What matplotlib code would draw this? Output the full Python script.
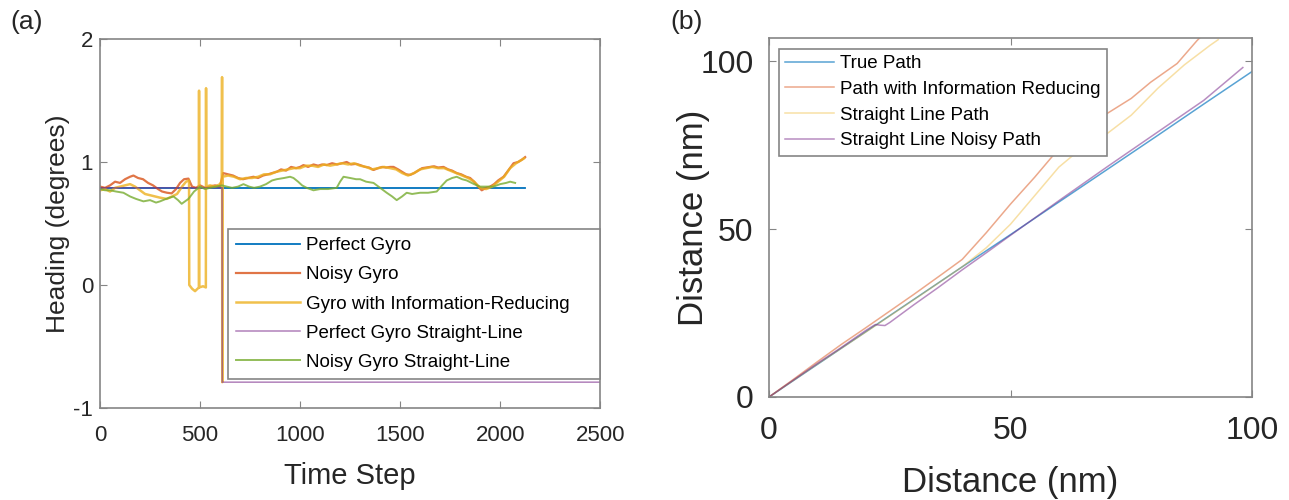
import matplotlib
matplotlib.use("Agg")
import matplotlib.pyplot as plt

plt.rcParams['font.family'] = ['Liberation Sans', 'DejaVu Sans']
plt.rcParams['axes.unicode_minus'] = False

# MATLAB default line colours
c_blue = '#0072BD'
c_orange = '#D95319'
c_yellow = '#EDB120'
c_purple = '#7E2F8E'
c_green = '#77AC30'

# ---------- panel (a): heading vs time step ----------
perfect_t = [0, 2125]
perfect_h = [0.79, 0.79]

noisy_t = [0, 25, 50, 75, 100, 125, 150, 167, 190, 215, 240, 265, 290, 310, 335,
           358, 380, 400, 420, 442, 460, 480, 500, 525, 550, 575, 600, 615, 640,
           665, 690, 715, 740, 767, 790, 815, 840, 860, 883, 905, 930, 955, 980,
           1000, 1017, 1040, 1067, 1090, 1110, 1133, 1160, 1185, 1210, 1233, 1255,
           1280, 1300, 1325, 1345, 1367, 1390, 1410, 1430, 1450, 1467, 1490, 1510,
           1530, 1550, 1570, 1590, 1610, 1630, 1650, 1670, 1690, 1717, 1740, 1760,
           1783, 1805, 1830, 1850, 1870, 1890, 1908, 1930, 1950, 1970, 1990, 2017,
           2040, 2067, 2090, 2110, 2125]
noisy_h = [0.80, 0.79, 0.81, 0.84, 0.83, 0.86, 0.88, 0.89, 0.87, 0.86, 0.83, 0.81,
           0.78, 0.76, 0.75, 0.745, 0.78, 0.83, 0.86, 0.865, 0.80, 0.79, 0.81, 0.79,
           0.80, 0.81, 0.80, 0.91, 0.90, 0.89, 0.87, 0.86, 0.87, 0.88, 0.87, 0.89,
           0.90, 0.91, 0.92, 0.94, 0.93, 0.96, 0.95, 0.96, 0.975, 0.96, 0.98, 0.97,
           0.98, 0.975, 0.99, 0.98, 0.99, 1.00, 0.98, 0.985, 0.975, 0.96, 0.955,
           0.935, 0.95, 0.96, 0.955, 0.96, 0.96, 0.94, 0.92, 0.90, 0.895, 0.91, 0.93,
           0.95, 0.955, 0.96, 0.965, 0.955, 0.96, 0.94, 0.93, 0.91, 0.90, 0.88, 0.87,
           0.84, 0.80, 0.77, 0.79, 0.80, 0.82, 0.85, 0.88, 0.93, 0.99, 1.00, 1.02, 1.04]

info_t = [0, 25, 50, 75, 100, 125, 150, 175, 200, 225, 250, 275, 300, 333, 360,
          385, 410, 430, 445, 446, 460, 475, 494, 495, 496, 515, 529, 530, 531,
          550, 575, 600, 609, 610, 611, 612, 640, 670, 700, 730, 760, 790, 820,
          850, 880, 910, 940, 970, 1000, 1030, 1060, 1090, 1120, 1150, 1180, 1210,
          1240, 1270, 1300, 1330, 1360, 1390, 1420, 1450, 1480, 1510, 1540, 1570,
          1600, 1630, 1660, 1690, 1720, 1750, 1780, 1810, 1840, 1870, 1900, 1930,
          1960, 1990, 2020, 2050, 2080, 2110, 2120]
info_h = [0.77, 0.78, 0.76, 0.79, 0.80, 0.81, 0.82, 0.80, 0.77, 0.74, 0.73, 0.72,
          0.71, 0.70, 0.72, 0.74, 0.80, 0.84, 0.85, 0.00, -0.03, -0.05, -0.02,
          1.58, -0.02, -0.01, -0.02, 1.60, 0.80, 0.81, 0.80, 0.82, 0.85, 1.69,
          -0.79, 0.88, 0.89, 0.88, 0.86, 0.87, 0.87, 0.88, 0.90, 0.90, 0.92, 0.93,
          0.94, 0.95, 0.95, 0.97, 0.97, 0.96, 0.98, 0.97, 0.98, 0.99, 0.98, 0.99,
          0.97, 0.96, 0.94, 0.95, 0.96, 0.95, 0.94, 0.91, 0.89, 0.91, 0.94, 0.95,
          0.96, 0.95, 0.95, 0.93, 0.91, 0.89, 0.87, 0.84, 0.79, 0.78, 0.80, 0.84,
          0.88, 0.95, 0.99, 1.02, 1.03]

straight_t = [0, 610, 611, 2500]
straight_h = [0.79, 0.79, -0.79, -0.79]

noisy_sl_t = [0, 25, 50, 80, 117, 150, 180, 217, 250, 280, 300, 330, 367, 390, 408,
              425, 442, 470, 500, 525, 550, 580, 610, 633, 660, 690, 717, 745, 770,
              800, 830, 860, 883, 920, 950, 967, 990, 1010, 1033, 1067, 1100, 1140,
              1183, 1200, 1217, 1250, 1280, 1300, 1330, 1367, 1400, 1433, 1460, 1483,
              1510, 1533, 1560, 1600, 1640, 1683, 1710, 1733, 1760, 1783, 1810, 1833,
              1870, 1900, 1930, 1967, 2000, 2030, 2050, 2075]
noisy_sl_h = [0.78, 0.77, 0.77, 0.76, 0.75, 0.72, 0.70, 0.68, 0.69, 0.67, 0.68, 0.70,
              0.72, 0.69, 0.66, 0.68, 0.70, 0.76, 0.80, 0.78, 0.79, 0.80, 0.81, 0.80,
              0.79, 0.80, 0.82, 0.80, 0.79, 0.80, 0.82, 0.85, 0.86, 0.87, 0.88, 0.87,
              0.84, 0.81, 0.79, 0.77, 0.78, 0.78, 0.79, 0.84, 0.88, 0.87, 0.86, 0.86,
              0.84, 0.83, 0.79, 0.75, 0.72, 0.69, 0.72, 0.75, 0.74, 0.75, 0.75, 0.76,
              0.81, 0.85, 0.87, 0.88, 0.86, 0.85, 0.82, 0.80, 0.80, 0.80, 0.82, 0.83,
              0.84, 0.83]

labels_a = ['Perfect Gyro', 'Noisy Gyro', 'Gyro with Information-Reducing',
            'Perfect Gyro Straight-Line', 'Noisy Gyro Straight-Line']

# ---------- panel (b): paths ----------
true_x = [0, 10, 20, 30, 40, 50, 60, 70, 80, 90, 100]
true_y = [0, 9.7, 19.4, 29.1, 38.8, 48.4, 58.1, 67.8, 77.5, 87.3, 97.0]

info_x = [0, 5, 10, 15, 20, 25, 30, 36, 40, 45, 50, 55, 60, 65, 70, 75, 79, 84.5, 88.6, 89.5]
info_y = [0, 5.2, 10.5, 15.7, 20.6, 25.6, 30.6, 36.8, 41.0, 49.0, 57.5, 65.5, 74.0,
          80.5, 84.5, 89.0, 93.8, 99.4, 106.2, 107.5]

sl_x = [0, 10, 20, 30, 40, 45, 50, 55, 60, 65, 70, 75, 80.5, 86, 91.3, 93]
sl_y = [0, 9.8, 19.3, 29.0, 38.8, 44.5, 51.5, 60.0, 68.5, 74.5, 78.5, 84.0, 92.0,
        99.0, 104.8, 106.5]

sln_x = [0, 5, 10, 15, 20, 22, 23, 24, 25, 30, 35, 40, 45, 50, 60, 70, 80, 90, 98.1]
sln_y = [0, 5.0, 10.0, 14.8, 19.8, 21.6, 21.4, 21.3, 22.2, 27.5, 32.6, 37.9, 43.0,
         48.2, 58.5, 68.6, 78.5, 88.4, 98.2]

labels_b = ['True Path', 'Path with Information Reducing', 'Straight Line Path',
            'Straight Line Noisy Path']

axis_grey = '#858585'
text_col = '#262626'

fig = plt.figure(figsize=(12.89, 5.0), dpi=100)

ax1 = fig.add_axes([0.0776, 0.184, 0.388, 0.738])
ax1.plot(perfect_t, perfect_h, color=c_blue, lw=1.3, label=labels_a[0])
ax1.plot(noisy_t, noisy_h, color=c_orange, lw=1.6, alpha=0.8, label=labels_a[1])
ax1.plot(info_t, info_h, color=c_yellow, lw=1.8, alpha=0.8, label=labels_a[2])
ax1.plot(straight_t, straight_h, color=c_purple, lw=1.1, alpha=0.6, label=labels_a[3])
ax1.plot(noisy_sl_t, noisy_sl_h, color=c_green, lw=1.4, alpha=0.8, label=labels_a[4])
ax1.set_xlim(0, 2500)
ax1.set_ylim(-1, 2)
ax1.set_xticks([0, 500, 1000, 1500, 2000, 2500])
ax1.set_yticks([-1, 0, 1, 2])
ax1.set_xlabel('Time Step', fontsize=21, color=text_col, labelpad=12)
ax1.set_ylabel('Heading (degrees)', fontsize=19, color=text_col, labelpad=2)
ax1.tick_params(labelsize=16, labelcolor=text_col, direction='in', length=5,
                color=axis_grey, top=True, right=True)
ax1.tick_params(axis='x', pad=12)
ax1.tick_params(axis='y', pad=5)
leg1 = ax1.legend(loc='lower left', bbox_to_anchor=(0.256, 0.078, 0.744, 0.41),
                  mode='expand', fontsize=13.5, handlelength=3.4, handletextpad=0.3,
                  labelspacing=0.64, borderpad=0.45, borderaxespad=0, fancybox=False,
                  framealpha=1, edgecolor=axis_grey)
leg1.get_frame().set_linewidth(1.2)

ax2 = fig.add_axes([0.5966, 0.206, 0.3747, 0.718])
ax2.plot(true_x, true_y, color=c_blue, lw=1.1, alpha=0.65, label=labels_b[0])
ax2.plot(info_x, info_y, color=c_orange, lw=1.1, alpha=0.5, label=labels_b[1])
ax2.plot(sl_x, sl_y, color=c_yellow, lw=1.1, alpha=0.4, label=labels_b[2])
ax2.plot(sln_x, sln_y, color=c_purple, lw=1.1, alpha=0.55, label=labels_b[3])
ax2.set_xlim(0, 100)
ax2.set_ylim(0, 107)
ax2.set_xticks([0, 50, 100])
ax2.set_yticks([0, 50, 100])
ax2.set_xlabel('Distance (nm)', fontsize=25, color=text_col, labelpad=14)
ax2.set_ylabel('Distance (nm)', fontsize=25, color=text_col, labelpad=-7)
ax2.tick_params(labelsize=23, labelcolor=text_col, direction='in', length=5,
                color=axis_grey, top=True, right=True)
ax2.tick_params(axis='x', pad=14)
ax2.tick_params(axis='y', pad=11)
leg2 = ax2.legend(loc='upper left', bbox_to_anchor=(0.02, 0.97), fontsize=13.5,
                  handlelength=2.6, handletextpad=0.3, labelspacing=0.45,
                  borderpad=0.35, borderaxespad=0, fancybox=False, framealpha=1,
                  edgecolor=axis_grey)
leg2.get_frame().set_linewidth(1.2)

for ax in (ax1, ax2):
    for sp in ax.spines.values():
        sp.set_color(axis_grey)
        sp.set_linewidth(1.2)

fig.text(0.008, 0.955, '(a)', fontsize=19, color=text_col, va='center')
fig.text(0.52, 0.955, '(b)', fontsize=19, color=text_col, va='center')

fig.savefig('out.png', dpi=100)
